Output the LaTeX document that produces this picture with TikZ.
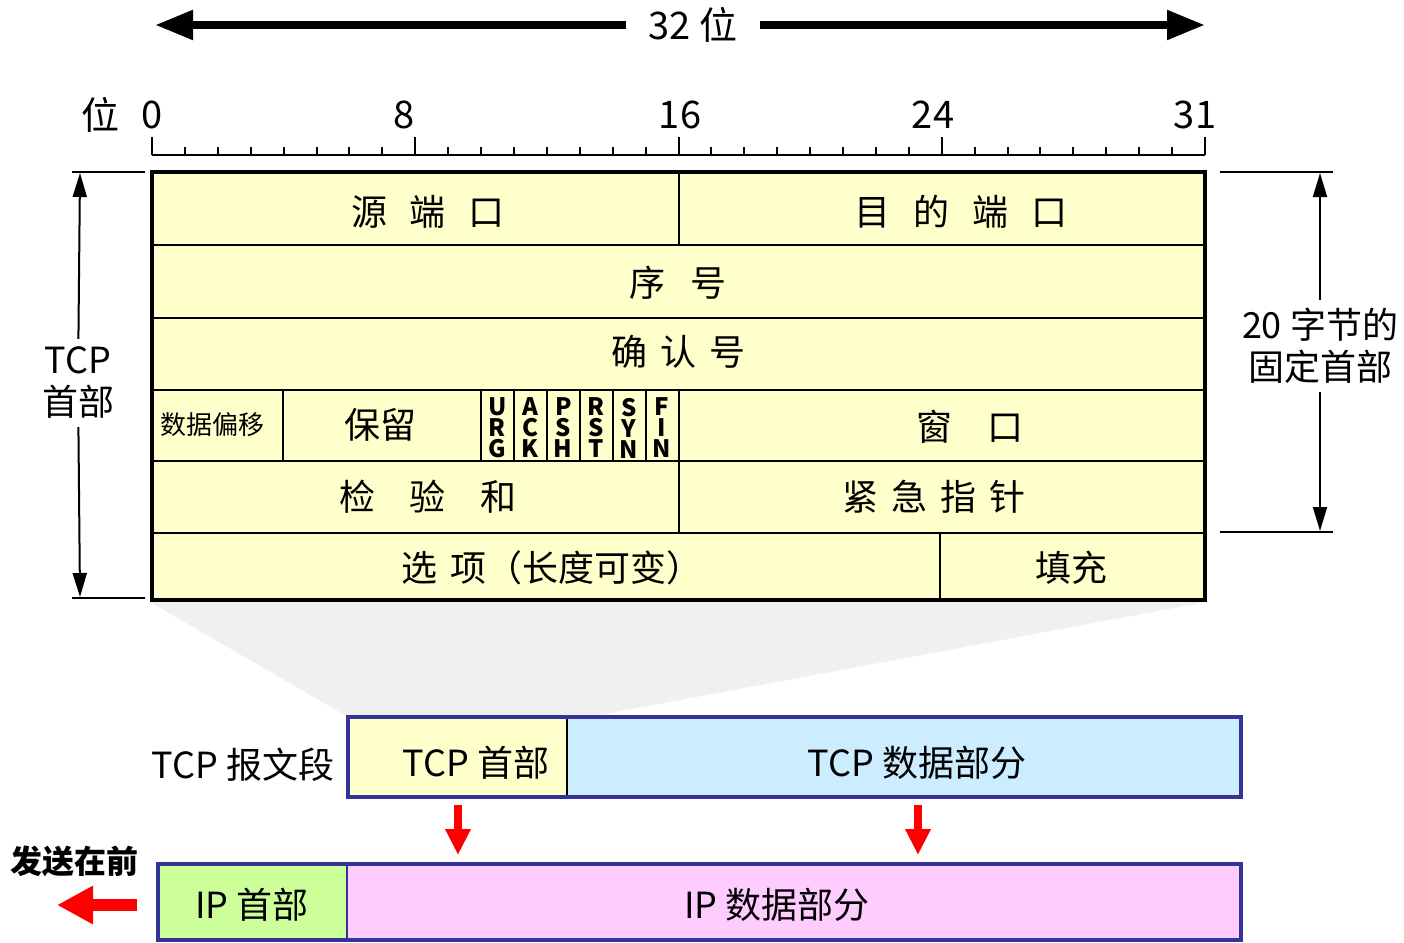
\documentclass[tikz,border=0pt]{standalone}
\usepackage{fontspec}
\setmainfont{Noto Sans CJK SC}
\usetikzlibrary{arrows.meta}
\definecolor{hdryellow}{HTML}{FFFFCC}
\definecolor{segblue}{HTML}{333399}
\definecolor{datablue}{HTML}{CCECFF}
\definecolor{ipgreen}{HTML}{CCFF99}
\definecolor{ippink}{HTML}{FFCCFF}
\tikzset{
  field/.style={font=\fontsize{36}{42}\selectfont, inner sep=0pt},
  num/.style={font=\fontsize{38}{42}\selectfont, inner sep=0pt},
  flag/.style={font=\fontsize{24}{21}\selectfont\bfseries, align=center, inner sep=0pt},
  thin/.style={line width=2pt},
  redarrow/.style={red, line width=8pt, -{Triangle[length=26pt,width=24pt]}},
}
\begin{document}
\begin{tikzpicture}[x=1pt, y=-1pt, >={Triangle[length=24pt,width=14pt]}]
\useasboundingbox (0,0) rectangle (1404,942);
% 32 bits wide
\node[num, inner xsep=22pt] (wide) at (693,25) {32 位};
\coordinate (wl) at (155,25);
\coordinate (wr) at (1205,25);
\draw[line width=8pt, -{Triangle[length=38pt,width=28pt]}] (wide) -- (wl);
\draw[line width=8pt, -{Triangle[length=38pt,width=28pt]}] (wide) -- (wr);
% ruler
\node[num] (bit) at (100,115) {位};
\draw[thin] (152,155) -- (1205,155);
\foreach \i in {0,...,32}
  \draw[thin] ({152+\i*32.906},155) -- ++(0,-8);
\foreach \i in {0,8,16,24,32}
  \draw[thin] ({152+\i*32.906},155) -- ++(0,-18);
\foreach \x/\t in {152/0,404/8,680/16,933/24,1195/31}
  \node[num] (b\t) at (\x,115) {\t};
% header fields
\fill[gray!12] (150,602) -- (1206,602) -- (589,717) -- (348,717) -- cycle;
\fill[hdryellow] (152,172) rectangle (1205,600);
\foreach \y in {245,318,390,461,533}
  \draw[thin] (152,\y) -- (1205,\y);
\draw[thin] (679,172) -- (679,245);
\draw[thin] (679,461) -- (679,533);
\draw[thin] (940,533) -- (940,600);
\foreach \x in {283,481,514,547,580,613,646,679}
  \draw[thin] (\x,390) -- (\x,461);
\draw[line width=4pt] (152,172) rectangle (1205,600);
\node[field] (srcport) at (428,212) {源\hspace{23pt}端\hspace{23pt}口};
\node[field] (dstport) at (961,212) {目\hspace{23pt}的\hspace{23pt}端\hspace{23pt}口};
\node[field] (seq) at (678,283) {序\hspace{25pt}号};
\node[field] (ack) at (678,352) {确\hspace{13pt}认\hspace{13pt}号};
\node[font=\fontsize{26}{30}\selectfont, inner sep=0pt] (offset) at (212,425) {数据偏移};
\node[field] (rsvd) at (380,425) {保留};
\foreach \f [count=\k] in {U\\R\\G, A\\C\\K, P\\S\\H, R\\S\\T, S\\Y\\N, F\\I\\N}
  \node[flag] (flag\k) at ({481+(\k-0.5)*32.906},428) {\f};
\node[field] (window) at (970,427) {窗\hspace{35pt}口};
\node[field] (checksum) at (428,497) {检\hspace{35pt}验\hspace{35pt}和};
\node[field] (urgent) at (934,497) {紧\hspace{13pt}急\hspace{13pt}指\hspace{13pt}针};
\node[field] (options) at (552,568) {选\hspace{13pt}项（长度可变）};
\node[field] (padding) at (1071,568) {填充};
% left brace: TCP header
\draw[thin] (72,172) -- (145,172);
\draw[thin] (72,598) -- (145,598);
\node[field, align=center, inner sep=8pt] (tcphdr) at (78,383) {TCP\\首部};
\coordinate (lt) at (80,173);
\coordinate (lb) at (80,597);
\draw[thin, ->] (tcphdr) -- (lt);
\draw[thin, ->] (tcphdr) -- (lb);
% right brace: 20 bytes
\draw[thin] (1220,172) -- (1333,172);
\draw[thin] (1220,532) -- (1333,532);
\node[field, align=center, inner sep=8pt] (fixed) at (1320,346) {20 字节的\\固定首部};
\coordinate (rt) at (1320,173);
\coordinate (rb) at (1320,531);
\draw[thin, ->] (fixed) -- (rt);
\draw[thin, ->] (fixed) -- (rb);
% TCP segment
\fill[hdryellow] (348,717) rectangle (567,797);
\fill[datablue] (567,717) rectangle (1241,797);
\draw[line width=1.5pt] (567,717) -- (567,797);
\draw[segblue, line width=4pt] (348,717) rectangle (1241,797);
\node[field] (seg) at (243,765) {TCP 报文段};
\node[field] (seghdr) at (476,763) {TCP 首部};
\node[field] (segdata) at (917,763) {TCP 数据部分};
% IP datagram
\fill[ipgreen] (158,864) rectangle (347,940);
\fill[ippink] (347,864) rectangle (1241,940);
\draw[segblue, line width=2pt] (347,864) -- (347,940);
\draw[segblue, line width=4pt] (158,864) rectangle (1241,940);
\node[field] (iphdr) at (252,905) {IP 首部};
\node[field] (ipdata) at (777,905) {IP 数据部分};
% red arrows
\coordinate (h1) at (458,805);
\coordinate (h2) at (458,855);
\coordinate (d1) at (918,805);
\coordinate (d2) at (918,855);
\draw[redarrow] (h1) -- (h2);
\draw[redarrow] (d1) -- (d2);
\node[font=\fontsize{32}{36}\selectfont\bfseries, inner sep=0pt] (first) at (74,861) {发送在前};
\coordinate (s1) at (137,905);
\coordinate (s2) at (57,905);
\draw[red, line width=12pt, -{Triangle[length=36pt,width=36pt]}] (s1) -- (s2);
\end{tikzpicture}
\end{document}
